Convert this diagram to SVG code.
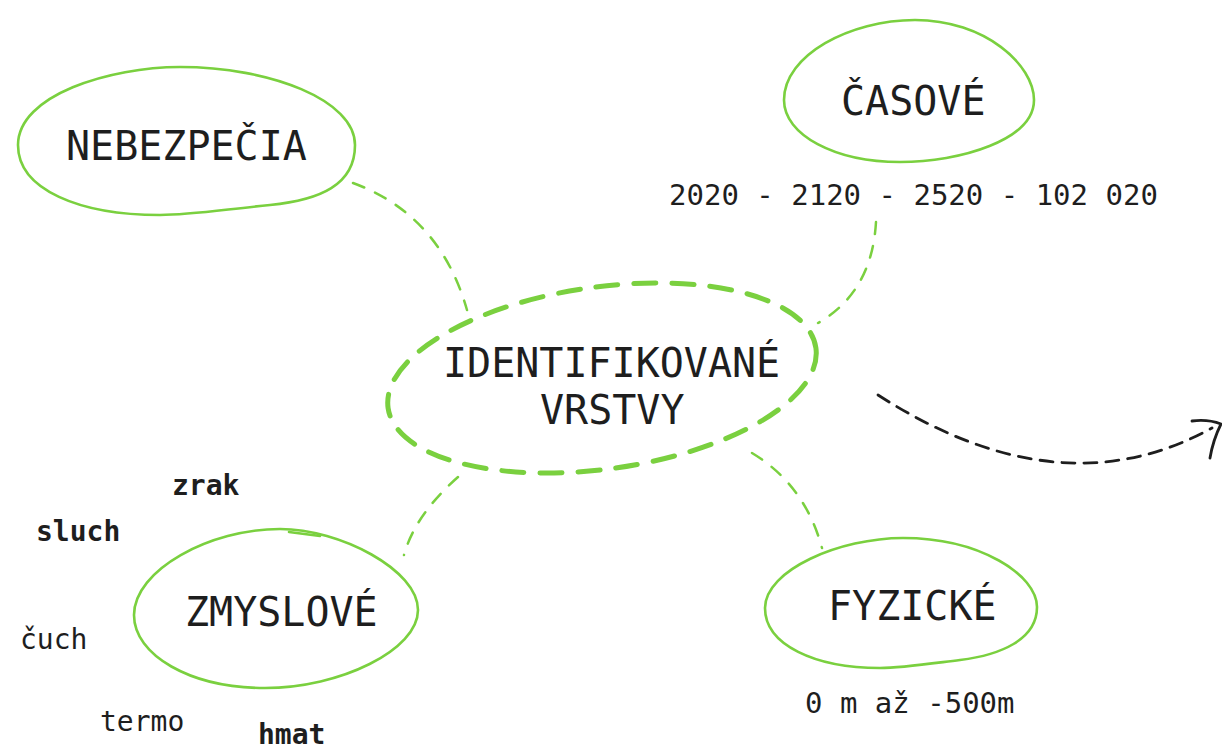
<svg xmlns="http://www.w3.org/2000/svg" width="1222" height="751" viewBox="0 0 1222 751">
  <style>
    .bg { fill: #ffffff; }
    .node { fill: none; stroke: #7ad03f; stroke-width: 2.6; stroke-linecap: round; stroke-linejoin: round; }
    .hub { fill: none; stroke: #7ad03f; stroke-width: 5; stroke-linecap: round; stroke-dasharray: 22 16; }
    .link { fill: none; stroke: #7ad03f; stroke-width: 2.5; stroke-linecap: round; stroke-dasharray: 12 12; }
    .flow { fill: none; stroke: #1e1e1e; stroke-width: 2.8; stroke-linecap: round; stroke-dasharray: 13 9; }
    .head { fill: none; stroke: #1e1e1e; stroke-width: 2.8; stroke-linecap: round; stroke-linejoin: round; }
    text { font-family: "DejaVu Sans Mono", "Liberation Mono", monospace; fill: #1e1e1e; }
    .big { font-size: 40px; }
    .note { font-size: 29px; }
    .sense { font-size: 28px; }
    .b { font-weight: bold; }
  </style>
  <rect class="bg" x="0" y="0" width="1222" height="751"/>

  <!-- connectors -->
  <g id="connectors">
    <path class="link" d="M353 183 Q440 215 467 310"/>
    <path class="link" d="M876 222 Q872 292 818 323"/>
    <path class="link" d="M458 477 Q415 515 404 555"/>
    <path class="link" d="M752 453 Q805 485 822 548"/>
    <path class="flow" d="M878 395 Q1060 512 1212 428"/>
    <path class="head" d="M1192 421 Q1208 419 1221 424 Q1213 440 1210 458"/>
  </g>

  <!-- central node -->
  <g id="identifikovane-vrstvy">
    <ellipse class="hub" cx="602" cy="378" rx="216" ry="91" transform="rotate(-8 602 378)"/>
    <text class="big" x="443" y="377">IDENTIFIKOVANÉ</text>
    <text class="big" x="540" y="424">VRSTVY</text>
  </g>

  <g id="nebezpecia">
    <path class="node" d="M18 145 C18 95 110 67 180 67 C270 67 355 100 355 145 C355 185 320 200 270 205 C220 210 190 215 160 215 C80 215 18 190 18 145 Z"/>
    <text class="big" x="66" y="160">NEBEZPEČIA</text>
  </g>

  <g id="casove">
    <path class="node" d="M784 100 C784 55 850 20 915 20 C985 20 1034 65 1034 100 C1034 140 960 162 900 162 C835 162 784 135 784 100 Z"/>
    <text class="big" x="841" y="115">ČASOVÉ</text>
    <text class="note" x="669" y="205">2020 - 2120 - 2520 - 102 020</text>
  </g>

  <g id="zmyslove">
    <path class="node" d="M134 615 C134 570 210 529 280 529 C340 529 418 570 418 610 C418 650 340 688 265 688 C190 688 134 655 134 615 Z"/>
    <path class="node" d="M289 532 L320 536"/>
    <text class="big" x="185" y="626">ZMYSLOVÉ</text>
    <text class="sense b" x="172" y="495">zrak</text>
    <text class="sense b" x="36" y="541">sluch</text>
    <text class="sense" x="20" y="649">čuch</text>
    <text class="sense" x="100" y="731">termo</text>
    <text class="sense b" x="258" y="744">hmat</text>
  </g>

  <g id="fyzicke">
    <path class="node" d="M765 608 C765 570 840 538 903 538 C980 538 1037 575 1037 607 C1037 640 1000 655 960 660 C920 665 900 668 880 668 C815 668 765 645 765 608 Z"/>
    <text class="big" x="828" y="620">FYZICKÉ</text>
    <text class="note" x="805" y="713">0 m až -500m</text>
  </g>
</svg>
